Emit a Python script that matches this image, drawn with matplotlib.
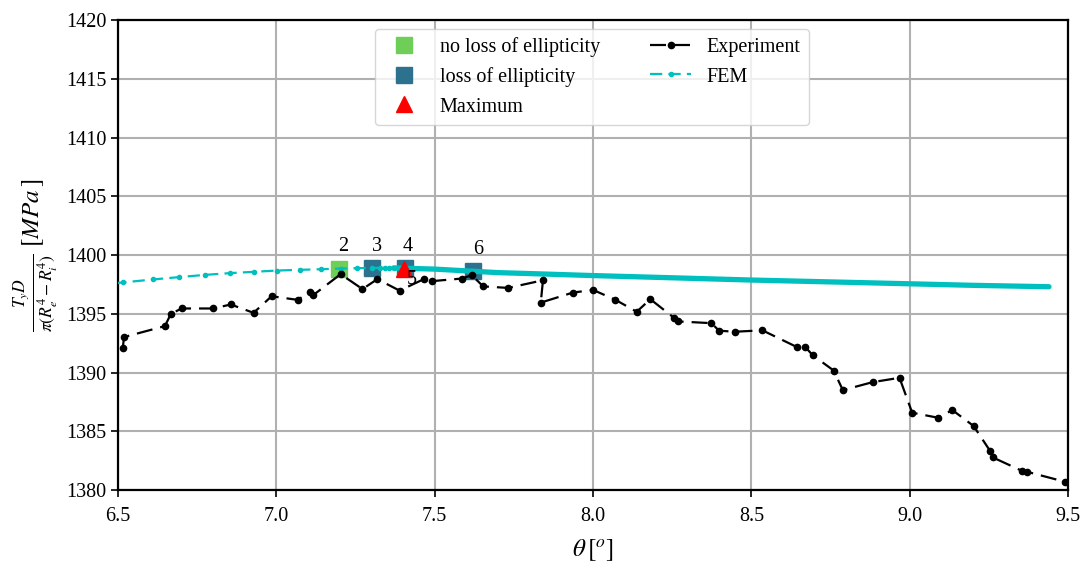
import numpy as np
import matplotlib
matplotlib.use("Agg")
import matplotlib.pyplot as plt

plt.rcParams["font.family"] = ["Liberation Serif", "DejaVu Serif"]
plt.rcParams["mathtext.fontset"] = "stix"

# experiment (black dashed with dots)
exp_x = [6.515, 6.519, 6.648, 6.667, 6.701, 6.801, 6.856, 6.928, 6.985, 7.068,
         7.105, 7.117, 7.203, 7.272, 7.319, 7.389, 7.466, 7.493, 7.587, 7.617,
         7.653, 7.732, 7.842, 7.835, 7.936, 8.0, 8.07, 8.138, 8.181, 8.257,
         8.267, 8.374, 8.398, 8.447, 8.535, 8.643, 8.67, 8.694, 8.76, 8.789,
         8.883, 8.968, 9.008, 9.088, 9.135, 9.202, 9.254, 9.263, 9.354, 9.371,
         9.491]
exp_y = [1392.12, 1393.02, 1393.95, 1395.0, 1395.45, 1395.45, 1395.79, 1395.08, 1396.49, 1396.18,
         1396.88, 1396.6, 1398.37, 1397.1, 1397.95, 1396.97, 1397.95, 1397.78, 1398.0, 1398.29,
         1397.33, 1397.2, 1397.85, 1395.95, 1396.8, 1397.03, 1396.2, 1395.17, 1396.24, 1394.63,
         1394.35, 1394.2, 1393.56, 1393.47, 1393.59, 1392.18, 1392.18, 1391.47, 1390.17, 1388.5,
         1389.18, 1389.55, 1386.58, 1386.16, 1386.8, 1385.45, 1383.33, 1382.77, 1381.64, 1381.55,
         1380.7]

# FEM, sparse part then dense part
fem_x = [6.43, 6.517, 6.611, 6.693, 6.775, 6.854, 6.929, 7.003, 7.074, 7.14,
         7.203, 7.256, 7.303, 7.327, 7.342, 7.356, 7.37]
fem_y = [1397.45, 1397.67, 1397.92, 1398.12, 1398.31, 1398.46, 1398.57, 1398.68, 1398.74, 1398.79,
         1398.85, 1398.88, 1398.9, 1398.9, 1398.9, 1398.9, 1398.9]
fem_dense_x = [7.37, 7.5, 7.6, 7.7, 7.8, 8.0, 8.2, 8.5, 8.8, 9.0, 9.2, 9.44]
fem_dense_y = [1398.9, 1398.8, 1398.65, 1398.5, 1398.42, 1398.25, 1398.1, 1397.87, 1397.68, 1397.55, 1397.42, 1397.3]

# markers
nole_x, nole_y = [7.199], [1398.8]
loe_x, loe_y = [7.301, 7.406, 7.622], [1398.87, 1398.87, 1398.6]
max_x, max_y = [7.403], [1398.8]

point_labels = ["2", "3", "4", "5", "6"]
label_x = [7.211, 7.317, 7.414, 7.427, 7.638]
label_y = [1400.7, 1400.7, 1400.7, 1397.9, 1400.5]

fig = plt.figure(figsize=(10.85, 5.65), dpi=100)
ax = fig.add_axes([0.1088, 0.1327, 0.8755, 0.8319])

ax.plot(nole_x, nole_y, "s", color="#6ece58", markersize=11, label="no loss of ellipticity", zorder=2)
ax.plot(loe_x, loe_y, "s", color="#2c728e", markersize=11, label="loss of ellipticity", zorder=2)
ax.plot(max_x, max_y, "^", color="red", markersize=12, label="Maximum", zorder=5)
ax.plot(exp_x, exp_y, color="black", lw=1.6, ls=(0, (7.2, 3.6)), marker="o",
        markersize=4.5, label="Experiment", zorder=4)
ax.plot(fem_x, fem_y, color="c", lw=1.6, ls=(0, (5.5, 2.8)), marker="o",
        markersize=3, label="FEM", zorder=3)
ax.plot(fem_dense_x, fem_dense_y, color="c", lw=3.8, solid_capstyle="round", zorder=3)

for t, x, y in zip(point_labels, label_x, label_y):
    ax.text(x, y, t, ha="center", va="center", fontsize=14.5, zorder=6)

ax.set_xlim(6.5, 9.5)
ax.set_ylim(1380, 1420)
ax.set_xticks(np.arange(6.5, 9.51, 0.5))
ax.set_yticks(np.arange(1380, 1421, 5))
ax.grid(True, color="#b0b0b0", lw=1.5)
ax.set_axisbelow(True)
for s in ax.spines.values():
    s.set_linewidth(1.6)
ax.tick_params(labelsize=14.5, width=1.2, length=5)
ax.tick_params(axis="x", pad=7.5)

ax.set_xlabel(r"$\theta\,[^o]$", fontsize=18, labelpad=7.5)
ax.set_ylabel(r"$\frac{T_y D}{\pi(R_e^4 - R_i^4)}\ [MPa\,]$", fontsize=18)

ax.legend(ncol=2, loc="upper center", bbox_to_anchor=(0.499, 0.98), borderaxespad=0,
          fontsize=14.5, columnspacing=2.5)

fig.savefig("out.png", dpi=100)
